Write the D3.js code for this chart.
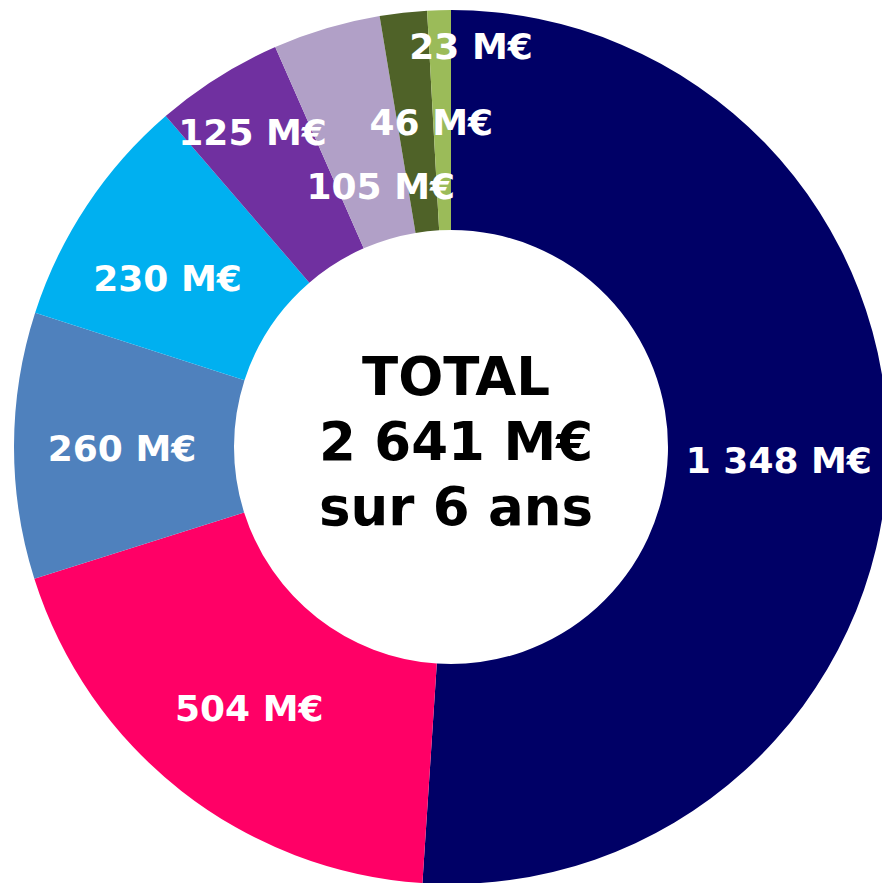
<!DOCTYPE html>
<html>
<head>
<meta charset="utf-8">
<script src="https://cdn.jsdelivr.net/npm/d3@7"></script>
<style>
  html, body { margin: 0; padding: 0; background: #ffffff; }
  svg { display: block; }
</style>
</head>
<body>
<svg id="chart" width="882" height="883"></svg>
<script>
// data, clockwise from 12 o'clock
let values = [1348, 504, 260, 230, 125, 105, 46, 23];
let colors = ["#000066", "#ff0066", "#4f81bd", "#00b0f0", "#7030a0", "#b1a0c7", "#4f6228", "#9bbb59"];
let totalLines = ["TOTAL", "2 641 M€", "sur 6 ans"];

// label nudges off the arc centroid (the small slices are placed by hand in the original)
let labelNudge = [[1, 2], [0, 4], [-2, 2], [-11, 12], [-24, -38], [23, 52], [16, 0], [29, -74]];

function fmt(v) {
    return d3.format(",")(v).replace(/,/g, " ") + " M€";
}

let chart = d3.select("#chart");
let cx = 451, cy = 447;
let outerR = 437, innerR = 217;

let pie = d3.pie()
    .sort(null)
    .value(function(d) { return d; });
let arcs = pie(values);

let arc = d3.arc()
    .innerRadius(innerR)
    .outerRadius(outerR);

let g = chart.append("g")
    .attr("transform", "translate(" + cx + "," + cy + ")");

g.selectAll("path")
    .data(arcs)
    .enter()
    .append("path")
    .attr("d", arc)
    .style("fill", function(d, i) { return colors[i]; });

g.selectAll("text.val")
    .data(arcs)
    .enter()
    .append("text")
    .attr("class", "val")
    .attr("x", function(d, i) { return arc.centroid(d)[0] + labelNudge[i][0]; })
    .attr("y", function(d, i) { return arc.centroid(d)[1] + labelNudge[i][1]; })
    .attr("dy", "0.36em")
    .style("text-anchor", "middle")
    .style("font-family", "'DejaVu Sans', Verdana, sans-serif")
    .style("font-weight", "bold")
    .style("font-size", "36px")
    .style("fill", "#ffffff")
    .text(function(d) { return fmt(d.data); });

// centre text
g.selectAll("text.total")
    .data(totalLines)
    .enter()
    .append("text")
    .attr("class", "total")
    .attr("x", 5)
    .attr("y", function(d, i) { return -52 + i * 65; })
    .style("text-anchor", "middle")
    .style("font-family", "'DejaVu Sans', Verdana, sans-serif")
    .style("font-weight", "bold")
    .style("font-size", "53px")
    .style("fill", "#000000")
    .text(function(d) { return d; });
</script>
</body>
</html>
